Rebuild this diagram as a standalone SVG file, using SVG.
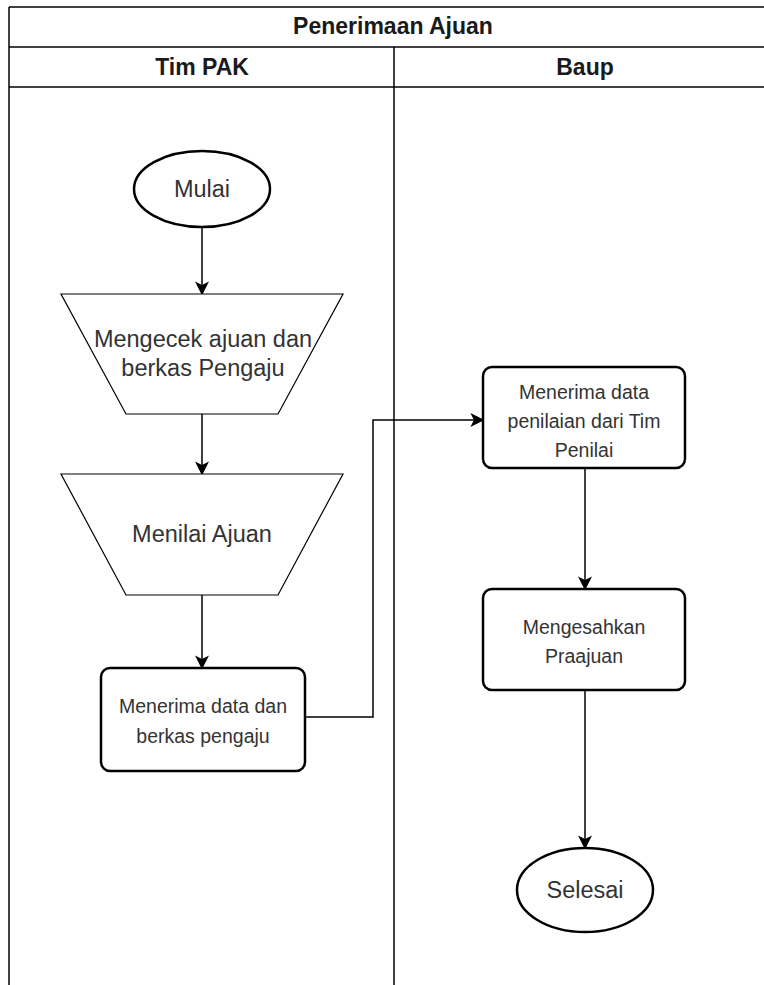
<svg xmlns="http://www.w3.org/2000/svg" width="764" height="985" viewBox="0 0 764 985">
<style>
.frame{fill:none;stroke:#000;stroke-width:1.5}
.title{font-family:"Liberation Sans",Arial,sans-serif;font-size:23px;font-weight:bold;fill:#1a1a1a;text-anchor:middle}
.term{fill:#fff;stroke:#000;stroke-width:2.5}
.proc{fill:#fff;stroke:#000;stroke-width:2.5}
.trap{fill:#fff;stroke:#000;stroke-width:1.2}
.big{font-family:"Liberation Sans",Arial,sans-serif;font-size:23.5px;fill:#333;text-anchor:middle}
.small{font-family:"Liberation Sans",Arial,sans-serif;font-size:19.5px;fill:#333;text-anchor:middle}
.conn{fill:none;stroke:#000;stroke-width:1.5}
</style>
<defs>
<marker id="arr" viewBox="0 0 10 10" refX="9" refY="5" markerWidth="14" markerHeight="14" markerUnits="userSpaceOnUse" orient="auto">
<path d="M0,0 L10,5 L0,10 L2.5,5 z" fill="#000"/>
</marker>
</defs>
<rect width="764" height="985" fill="#fff"/>
<g id="pool">
<line class="frame" x1="9" y1="7" x2="776" y2="7"/>
<line class="frame" x1="9" y1="7" x2="9" y2="985"/>
<line class="frame" x1="9" y1="47" x2="776" y2="47"/>
<line class="frame" x1="9" y1="87" x2="776" y2="87"/>
<line class="frame" x1="394" y1="47" x2="394" y2="985"/>
<text class="title" x="393" y="34">Penerimaan Ajuan</text>
</g>
<g id="lane-timpak"><text class="title" x="202" y="75">Tim PAK</text></g>
<g id="lane-baup"><text class="title" x="585" y="75">Baup</text></g>
<g id="connectors">
<line class="conn" x1="202" y1="227" x2="202" y2="294" marker-end="url(#arr)"/>
<line class="conn" x1="202" y1="414" x2="202" y2="474" marker-end="url(#arr)"/>
<line class="conn" x1="202" y1="595" x2="202" y2="668" marker-end="url(#arr)"/>
<polyline class="conn" points="305,717 373,717 373,420 483,420" marker-end="url(#arr)"/>
<line class="conn" x1="585" y1="468" x2="585" y2="589" marker-end="url(#arr)"/>
<line class="conn" x1="585" y1="690" x2="585" y2="848" marker-end="url(#arr)"/>
</g>
<g id="mulai">
<ellipse class="term" cx="202" cy="189" rx="68" ry="38"/>
<text class="big" x="202" y="197">Mulai</text>
</g>
<g id="mengecek">
<polygon class="trap" points="61,294 343,294 278,414 126,414"/>
<text class="big" x="203" y="347">Mengecek ajuan dan</text>
<text class="big" x="203" y="376">berkas Pengaju</text>
</g>
<g id="menilai">
<polygon class="trap" points="61,474 343,474 278,595 126,595"/>
<text class="big" x="202" y="542">Menilai Ajuan</text>
</g>
<g id="menerima1">
<rect class="proc" x="101" y="668" width="204" height="103" rx="9"/>
<text class="small" x="203" y="713">Menerima data dan</text>
<text class="small" x="203" y="743">berkas pengaju</text>
</g>
<g id="menerima2">
<rect class="proc" x="483" y="367" width="202" height="101" rx="9"/>
<text class="small" x="584" y="399">Menerima data</text>
<text class="small" x="584" y="428">penilaian dari Tim</text>
<text class="small" x="584" y="457">Penilai</text>
</g>
<g id="mengesahkan">
<rect class="proc" x="483" y="589" width="202" height="101" rx="9"/>
<text class="small" x="584" y="634">Mengesahkan</text>
<text class="small" x="584" y="663">Praajuan</text>
</g>
<g id="selesai">
<ellipse class="term" cx="585" cy="890" rx="68" ry="42"/>
<text class="big" x="585" y="898">Selesai</text>
</g>
</svg>
